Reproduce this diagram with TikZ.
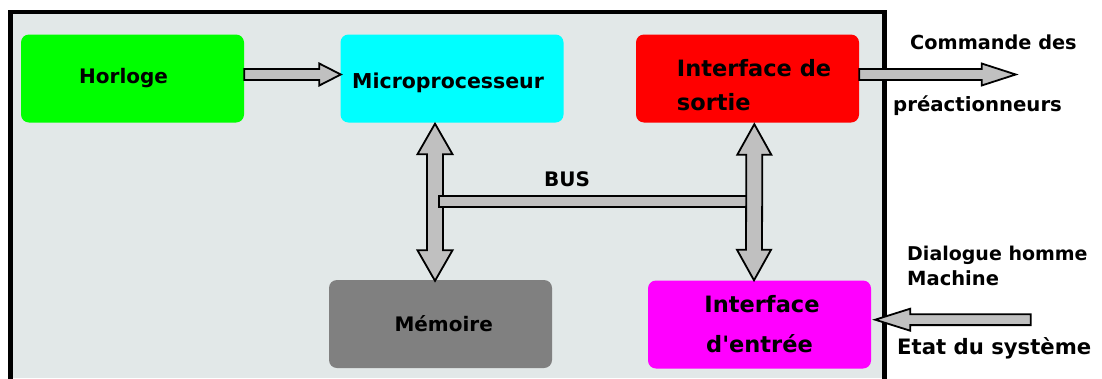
\documentclass[tikz,border=0pt]{standalone}
\usepackage{fontspec}
\newfontfamily\cs{DejaVu Sans}
\usetikzlibrary{calc}
\definecolor{framebg}{HTML}{E2E8E8}
\definecolor{arrowgray}{HTML}{C0C0C0}
\definecolor{memgray}{HTML}{808080}
\tikzset{
  box/.style={rounded corners=8pt, minimum width=223pt, minimum height=88pt, inner sep=0pt, draw=none},
  blk/.style={draw=black, fill=arrowgray, line width=1.8pt, line join=miter},
  txt/.style={font=\cs\bfseries\fontsize{20}{24}\selectfont, inner sep=0pt, anchor=base west},
  itxt/.style={font=\cs\bfseries\fontsize{22.5}{27}\selectfont, inner sep=0pt, anchor=base west},
  fs/.style={font=\cs\bfseries\fontsize{#1}{#1}\selectfont},
}
% right-pointing block arrow: tail, tip, shaft half, head half, head length
\newcommand\harrowR[5]{\draw[blk] ($(#1)+(0,-#3)$) -- ($(#2)+(-#5,-#3)$) -- ($(#2)+(-#5,-#4)$) -- (#2) -- ($(#2)+(-#5,#4)$) -- ($(#2)+(-#5,#3)$) -- ($(#1)+(0,#3)$) -- cycle;}
% left-pointing block arrow
\newcommand\harrowL[5]{\draw[blk] ($(#1)+(0,-#3)$) -- ($(#2)+(#5,-#3)$) -- ($(#2)+(#5,-#4)$) -- (#2) -- ($(#2)+(#5,#4)$) -- ($(#2)+(#5,#3)$) -- ($(#1)+(0,#3)$) -- cycle;}
% vertical double block arrow: top tip, bottom tip, shaft half, head half, head length
\newcommand\vdarrow[5]{\draw[blk] (#1) -- ($(#1)+(#4,#5)$) -- ($(#1)+(#3,#5)$) -- ($(#2)+(#3,-#5)$) -- ($(#2)+(#4,-#5)$) -- (#2) -- ($(#2)+(-#4,-#5)$) -- ($(#2)+(-#3,-#5)$) -- ($(#1)+(-#3,#5)$) -- ($(#1)+(-#4,#5)$) -- cycle;}
\begin{document}
\begin{tikzpicture}[x=1pt,y=-1pt]
\useasboundingbox (0,0) rectangle (1102,378);
% frame
\fill[framebg] (10.3,12) rectangle (884.5,378);
\draw[line width=4.4pt, line cap=rect] (10.3,378) -- (10.3,12) -- (884.5,12) -- (884.5,378);
% boxes
\node[box, fill={rgb,255:red,0;green,255;blue,0}] (hor) at (132.5,78.5) {};
\node[box, fill={rgb,255:red,0;green,255;blue,255}] (mic) at (452,78.5) {};
\node[box, fill={rgb,255:red,255;green,0;blue,0}] (sor) at (747.5,78.5) {};
\node[box, fill=memgray] (mem) at (440.5,324) {};
\node[box, fill={rgb,255:red,255;green,0;blue,255}] (ent) at (759.5,324.5) {};
% texts
\node[txt] (thor) at (79,83) {Horloge};
\node[txt, fs=20.5] (tmic) at (352,88.3) {Microprocesseur};
\node[itxt] (tsor1) at (676.7,76.7) {Interface de};
\node[itxt] (tsor2) at (676.7,110) {sortie};
\node[txt] (tbus) at (544,186.7) {BUS};
\node[txt] (tmem) at (394.3,331.7) {Mémoire};
\node[itxt, anchor=base] (tent1) at (762,312.7) {Interface};
\node[itxt, anchor=base] (tent2) at (759.5,352.7) {d'entrée};
\node[txt, fs=19.3] (tcmd) at (910,49) {Commande des};
\node[txt, fs=19.7] (tpre) at (893,111.7) {préactionneurs};
\node[txt, fs=19] (tdia) at (907,260) {Dialogue homme};
\node[txt, fs=19.5] (tmac) at (907,285) {Machine};
\node[txt, fs=21.2] (teta) at (897,354) {Etat du système};
% connector coordinates
\coordinate (a1s) at ($(hor.east)+(0,-4)$);
\coordinate (a1e) at ($(mic.west)+(0.5,-4)$);
\coordinate (a2s) at ($(sor.east)+(0,-4)$);
\coordinate (a2e) at (1015.7,74.5);
\coordinate (a3s) at (1030.7,319.7);
\coordinate (a3e) at ($(ent.east)+(4,-4.8)$);
\coordinate (v1t) at ($(mic.south)+(-17,1)$);
\coordinate (v1b) at ($(mem.north)+(-5.5,1)$);
\coordinate (v2t) at ($(sor.south)+(6.8,1.5)$);
\coordinate (v2b) at ($(ent.north)+(-5.5,0)$);
% arrows
\harrowR{a1s}{a1e}{5.5}{11}{21.5}
\harrowR{a2s}{a2e}{5.5}{11}{34}
\harrowL{a3s}{a3e}{5.4}{11}{35}
\vdarrow{v1t}{v1b}{8}{17.5}{30.5}
\draw[blk] ($(v1t)+(4.3,72.4)$) rectangle ($(v2t)+(-7.3,82.7)$);
\vdarrow{v2t}{v2b}{8}{17}{30.5}
\end{tikzpicture}
\end{document}
